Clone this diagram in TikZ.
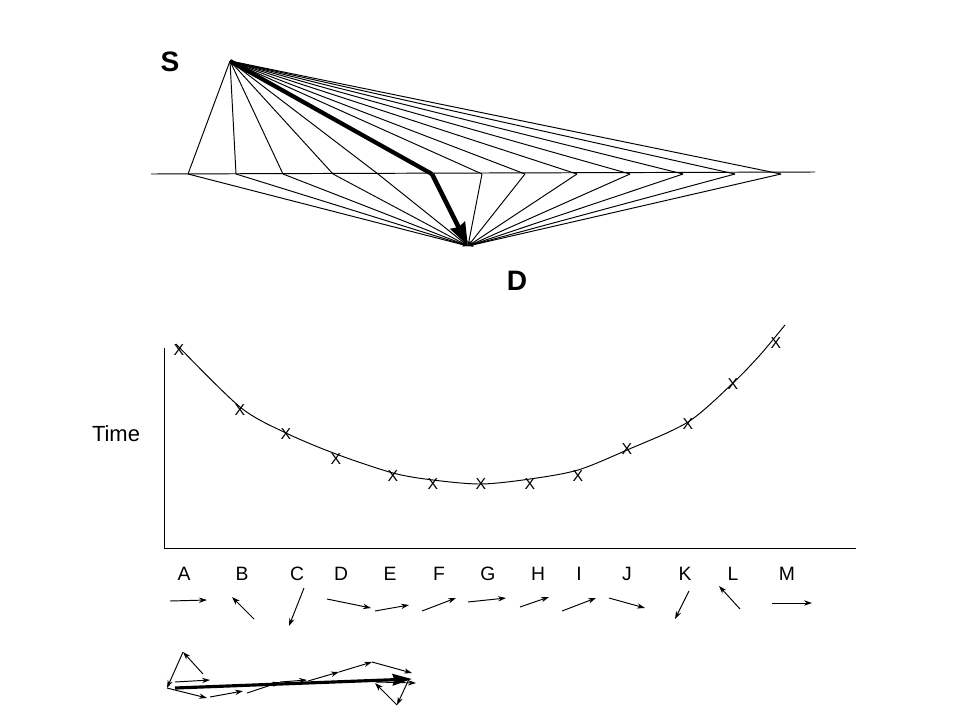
\documentclass[tikz,border=0pt]{standalone}
\usepackage{fontspec}
\setmainfont{Liberation Sans}
\usetikzlibrary{arrows.meta}

\begin{document}
\begin{tikzpicture}[x=0.02cm, y=-0.02cm, line width=0.55pt,
    ray/.style={-{Stealth[length=3pt,width=2pt]}},
    best/.style={line width=2.4pt},
    bestarrow/.style={line width=2.6pt, -{Stealth[length=13pt,width=9pt,inset=1pt]}},
    vec/.style={-{Stealth[length=4.5pt,width=3pt]}},
    sumarrow/.style={line width=1.8pt, -{Stealth[length=11pt,width=6.5pt,inset=1pt]}},
    xmark/.style={font=\fontsize{9}{9}\selectfont, inner sep=0pt},
    lbl/.style={font=\fontsize{11}{11}\selectfont, inner sep=0pt}]
    \useasboundingbox (0,0) rectangle (960,720);
    \node[font=\fontsize{16}{16}\selectfont\bfseries] (s) at (170,62) {S};
    \node[font=\fontsize{16}{16}\selectfont\bfseries] (d) at (517,281) {D};
    \coordinate (S) at (230,61);
    \coordinate (D) at (468,246);
    \coordinate (ml) at (151,174);
    \coordinate (mr) at (815,172);
    \draw (ml) -- (mr);
    \foreach \x [count=\i] in {188,236,283,333,378,432,482,525,577,630,683,735,781} {
        \coordinate (m\i) at (\x,174);
    }
    \foreach \i in {1,2,3,4,5,7,8,9,10,11,12,13} {
        \draw (S) -- (m\i);
        \draw[ray] (m\i) -- (D);
    }
    \draw[best] (S) -- (m6);
    \draw[bestarrow] (m6) -- (D);

    \coordinate (o) at (164,548);
    \draw (164,348) -- (o) -- (856,548);
    \node[font=\fontsize{12.5}{12.5}\selectfont] (time) at (116,434) {Time};
    \draw plot[smooth] coordinates {(176,344) (240,407) (286,433) (336,454) (393,473) (433,480) (481,484) (530,479) (578,470) (627,450) (688,422) (733,383) (760,355) (785,325)};
    \foreach \n/\x/\y in {A/179/350, B/240/410, C/286/434, D/336/459, E/393/476, F/433/484, G/481/484, H/530/484, I/578/476, J/627/449, K/688/424, L/733/384, M/776/343} {
        \node[xmark] (x\n) at (\x,\y) {X};
    }

    \foreach \n/\x in {A/184, B/242, C/297, D/341, E/390, F/439, G/488, H/538, I/579, J/627, K/685, L/733, M/787} {
        \node[lbl] (l\n) at (\x,574) {\n};
    }
    \foreach \n/\a/\b/\c/\d in {A/170/601/207/600, B/254/619/232/597, C/304/588/289/626, D/327/599/371/608, E/375/611/409/605, F/422/611/456/598, G/468/602/506/598, H/520/607/549/597, I/562/611/596/598, J/609/598/645/608, K/689/591/675/619, L/740/609/719/586, M/772/603/812/603} {
        \coordinate (v\n s) at (\a,\b);
        \coordinate (v\n e) at (\c,\d);
        \draw[vec] (v\n s) -- (v\n e);
    }

    \foreach \n/\a/\b/\c/\d in {A/175/682/210/680, B/203/674/183/652, C/183/652/167/688, D/167/688/207/698, E/210/697/243/691, F/247/693/280/682, G/280/682/307/680, H/308/681/339/672, I/339/672/372/662, J/372/662/412/673, K/409/679/397/705, L/397/705/375/683, M/376/682/416/683} {
        \coordinate (c\n s) at (\a,\b);
        \coordinate (c\n e) at (\c,\d);
        \draw[vec] (c\n s) -- (c\n e);
    }
    \coordinate (sum0) at (175,688);
    \coordinate (sum1) at (412,679);
    \draw[sumarrow] (sum0) -- (sum1);
\end{tikzpicture}
\end{document}
